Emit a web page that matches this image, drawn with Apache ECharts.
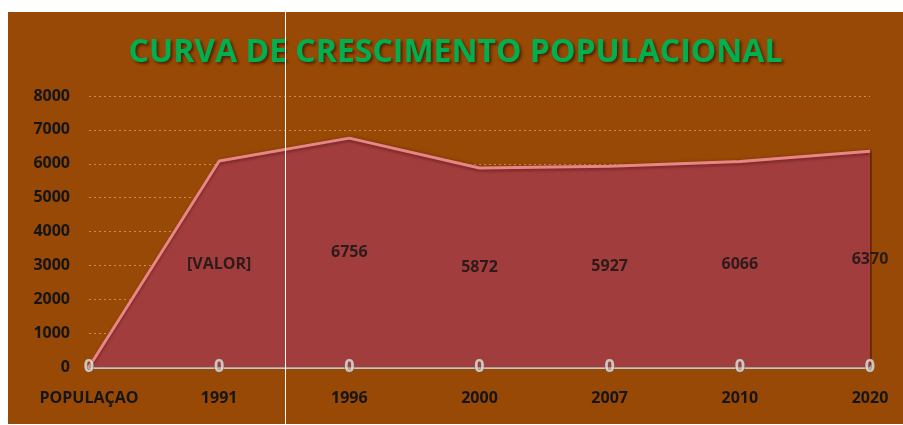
<!DOCTYPE html>
<html>
<head>
<meta charset="utf-8">
<script src="https://cdn.jsdelivr.net/npm/echarts@6/dist/echarts.min.js"></script>
<style>
  html, body { margin: 0; padding: 0; background: #ffffff; }
  #chart { position: absolute; left: 8px; top: 12px; width: 895px; height: 412px; background: #984905; }
  #cursor { position: absolute; left: 285px; top: 12px; width: 1px; height: 413px; background: #ffffff; }
</style>
</head>
<body>
<div id="chart"></div>
<div id="cursor"></div>
<script>
var categories = ['POPULAÇAO', '1991', '1996', '2000', '2007', '2010', '2020'];
var populacao = [0, 6080, 6756, 5872, 5927, 6066, 6370];
var valueLabels = ['', '[VALOR]', '6756', '5872', '5927', '6066', '6370'];
var zeros = [0, 0, 0, 0, 0, 0, 0];
var yTicks = { min: 0, max: 8000, interval: 1000 };

var chart = echarts.init(document.getElementById('chart'));

var option = {
    animation: false,
    title: {
        text: 'CURVA DE CRESCIMENTO POPULACIONAL',
        left: 'center',
        top: 20,
        textStyle: {
            color: '#00B050',
            fontFamily: 'Open Sans',
            fontWeight: 'bold',
            fontSize: 32,
            textShadowColor: 'rgba(0,0,0,0.5)',
            textShadowBlur: 3,
            textShadowOffsetX: 2,
            textShadowOffsetY: 2
        }
    },
    grid: {
        left: 81,
        right: 33,
        top: 84,
        bottom: 57
    },
    xAxis: {
        type: 'category',
        data: categories,
        boundaryGap: false,
        axisLine: {
            lineStyle: { color: '#d4d4d4', width: 4, type: [3, 1] }
        },
        axisTick: { show: false },
        axisLabel: {
            margin: 23,
            color: '#151515',
            fontFamily: 'Open Sans',
            fontWeight: 'bold',
            fontSize: 16
        },
        splitLine: { show: false }
    },
    yAxis: {
        type: 'value',
        min: yTicks.min,
        max: yTicks.max,
        interval: yTicks.interval,
        axisLine: { show: false },
        axisTick: { show: false },
        axisLabel: {
            margin: 19,
            color: '#151515',
            fontFamily: 'Open Sans',
            fontWeight: 'bold',
            fontSize: 16,
            formatter: function (v) { return String(v); }
        },
        splitLine: {
            lineStyle: { color: 'rgba(235,200,165,0.55)', type: [2, 3], width: 1 }
        }
    },
    series: [{
        name: 'População',
        type: 'line',
        data: populacao,
        symbol: 'none',
        z: 2,
        lineStyle: {
            color: '#e98585',
            width: 3,
            shadowColor: 'rgba(60,0,0,0.4)',
            shadowBlur: 3,
            shadowOffsetY: 2
        },
        areaStyle: {
            color: '#a23d3d',
            opacity: 1,
            shadowColor: 'rgba(40,0,0,0.6)',
            shadowBlur: 4,
            shadowOffsetX: 2
        }
    }, {
        name: 'rotulos',
        type: 'scatter',
        data: populacao.map(function (v) { return v / 2; }),
        symbolSize: 0,
        z: 5,
        silent: true,
        label: {
            show: true,
            position: 'inside',
            color: '#111111',
            fontFamily: 'Open Sans',
            fontWeight: 'bold',
            fontSize: 16,
            formatter: function (p) { return valueLabels[p.dataIndex]; }
        }
    }, {
        name: 'zero',
        type: 'scatter',
        data: zeros,
        symbolSize: 0,
        z: 6,
        silent: true,
        label: {
            show: true,
            position: 'inside',
            color: '#e2e2e2',
            fontFamily: 'Open Sans',
            fontWeight: 'bold',
            fontSize: 18,
            textBorderColor: '#7a5a40',
            textBorderWidth: 1,
            formatter: function (p) { return String(p.value); }
        }
    }]
};

chart.setOption(option);
</script>
</body>
</html>
